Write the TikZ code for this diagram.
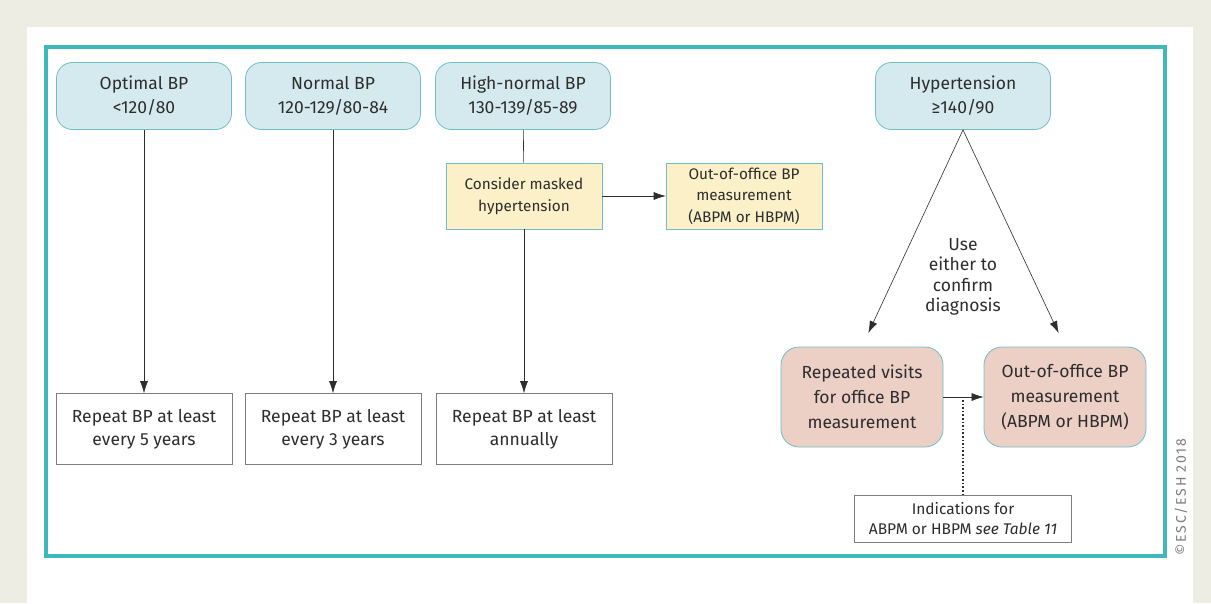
\documentclass[tikz,border=0pt]{standalone}
\usepackage{fontspec}
\setmainfont{Fira Sans}
\usetikzlibrary{arrows.meta}
\usetikzlibrary{positioning}
\definecolor{mback}{RGB}{237,237,227}
\definecolor{mteal}{RGB}{62,184,186}
\definecolor{mblue}{RGB}{213,234,239}
\definecolor{medge}{RGB}{112,190,196}
\definecolor{myellow}{RGB}{251,240,200}
\definecolor{mred}{RGB}{236,208,198}
\definecolor{mgray}{RGB}{125,125,125}
\definecolor{mtext}{RGB}{45,45,45}
\tikzset{category/.style = {draw=medge, fill=mblue, rounded corners=16pt, thick,
                            minimum width=175pt, minimum height=67pt, align=center,
                            text=mtext, font=\fontsize{17.5}{24}\selectfont},
         advice/.style = {draw=mgray, fill=white, semithick,
                          minimum width=176pt, minimum height=71pt, align=center,
                          text=mtext, font=\fontsize{17.5}{23}\selectfont},
         masked/.style = {draw=medge, fill=myellow, semithick,
                          minimum width=156pt, minimum height=66pt, align=center,
                          text=mtext, font=\fontsize{15.3}{21.5}\selectfont},
         confirm/.style = {draw=medge, fill=mred, rounded corners=18pt, thick,
                           minimum width=162pt, minimum height=100pt, align=center,
                           text=mtext, font=\fontsize{17.5}{25}\selectfont},
         flow/.style = {draw=mtext, semithick, -{Latex[length=12pt, width=8pt]}}}

\begin{document}
\begin{tikzpicture}[x=1pt, y=-1pt]
    \fill [mback] (0, 0) rectangle (1211, 603);
    \fill [white] (27, 27) rectangle (1193, 603);
    \draw [mteal, line width=3.5pt] (46, 47) rectangle (1165, 556);

    \node [category] (optimal) at (144, 96) {Optimal BP\\<120/80};
    \node [category] (normal) at (333, 96) {Normal BP\\120-129/80-84};
    \node [category] (highnormal) at (523, 96) {High-normal BP\\130-139/85-89};
    \node [category] (hyper) at (963, 96) {Hypertension\\≥140/90};

    \node [advice] (every5) at (144, 429) {Repeat BP at least\\every 5 years};
    \node [advice] (every3) at (333, 429) {Repeat BP at least\\every 3 years};
    \node [advice] (annual) at (524, 429) {Repeat BP at least\\annually};

    \node [masked] (consider) at (524, 196) {Consider masked\\hypertension};
    \node [masked] (outyellow) at (744, 196) {Out-of-office BP\\measurement\\(ABPM or HBPM)};

    \node [confirm] (visits) at (862, 397) {Repeated visits\\for office BP\\measurement};
    \node [confirm] (outred) at (1065, 397) {Out-of-office BP\\measurement\\(ABPM or HBPM)};

    \node [text=mtext, align=center, font=\fontsize{17.5}{20.5}\selectfont] (either) at (963, 277)
        {Use\\either to\\confirm\\diagnosis};
    \node [draw=mgray, semithick, fill=white, minimum width=217pt, minimum height=47pt,
           align=center, text=mtext, font=\fontsize{15.5}{20}\selectfont] (indic) at (963, 519)
        {Indications for\\ABPM or HBPM \textit{see Table 11}};

    \node [rotate=90, text=mgray, font=\fontsize{14}{16}\selectfont] (copy) at (1181, 497)
        {\addfontfeature{LetterSpace=12}©ESC/ESH 2018};

    \draw [flow] (optimal) -- (every5);
    \draw [flow] (normal) -- (every3);
    \draw [draw=mtext, semithick] (highnormal) -- (consider);
    \draw [flow] (consider) -- (annual);
    \draw [flow] (consider) -- (outyellow);

    \draw [flow, shorten >=15pt] (hyper.south) -- (visits.north);
    \draw [flow, shorten >=15pt] (hyper.south) -- (outred.north);
    \draw [flow] (visits) -- (outred);
    \draw [mtext, line width=1.6pt, dotted] (indic.north) -- (indic.north |- visits.east);
  \end{tikzpicture}
\end{document}
